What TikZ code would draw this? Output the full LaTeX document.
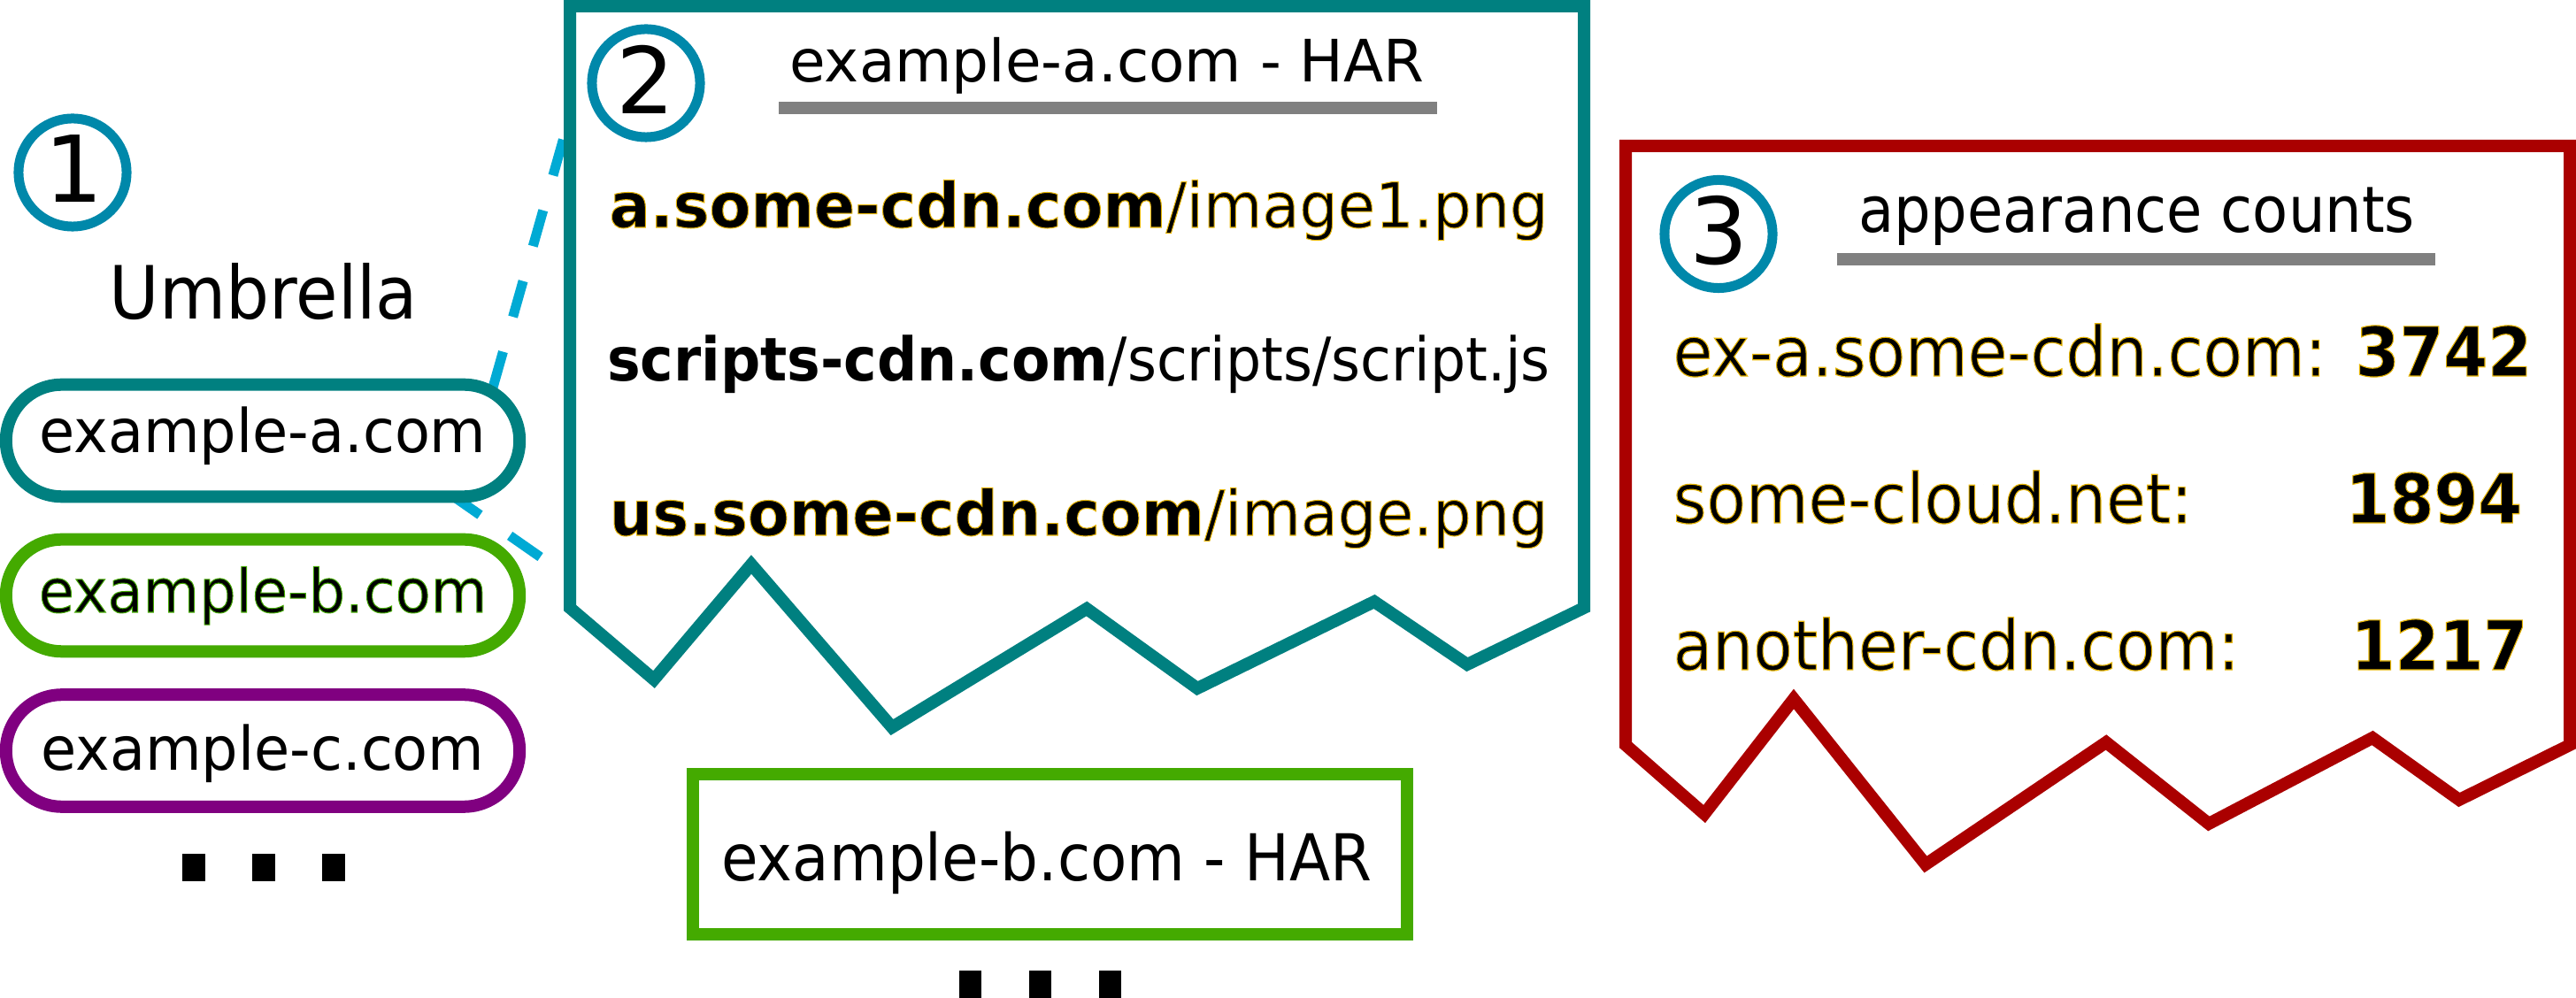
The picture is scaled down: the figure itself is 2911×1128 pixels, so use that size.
\documentclass[tikz,border=0pt]{standalone}
\usepackage{fontspec}
\setmainfont{DejaVu Sans}
\newfontfamily\olreg[FakeBold=1.5]{DejaVu Sans}
\newfontfamily\olbold[FakeBold=1.5]{DejaVu Sans Bold}
\usepackage{graphicx}
\definecolor{teal2}{HTML}{008080}
\definecolor{grn}{HTML}{44AA00}
\definecolor{purp}{HTML}{800080}
\definecolor{dred}{HTML}{AA0000}
\definecolor{cblue}{HTML}{0088AA}
\definecolor{dcyan}{HTML}{00AAD4}
\definecolor{grayrule}{HTML}{808080}
\newcommand\sx[2]{\scalebox{#1}[1]{#2}}
\newcommand\fsz[1]{\fontsize{#1}{#1}\selectfont}
% stroke colour for outlined text (fill stays black)
\newcommand\goldstroke{\special{pdf:literal direct 0.902 0.706 0 RG}}
\newcommand\greenstroke{\special{pdf:literal direct 0.267 0.667 0 RG}}
\begin{document}
\begin{tikzpicture}[x=0.01cm,y=-0.01cm]
\tikzset{
 pill/.style={draw, fill=white, rounded corners=0.63cm, minimum width=5.8cm, minimum height=1.265cm, line width=0.14cm, inner sep=0pt},
 numc/.style={circle, draw=cblue, line width=0.11cm, minimum size=1.22cm, inner sep=0pt},
 tcenter/.style={inner sep=0pt, anchor=base},
 tleft/.style={inner sep=0pt, anchor=base west},
 hframe/.style={line width=0.14cm, fill=white, line join=miter},
 hrule/.style={draw=grayrule, line width=0.14cm},
 zconn/.style={draw=dcyan, line width=0.11cm, dash pattern=on 0.42cm off 0.41cm},
 sqdot/.style={fill=black},
}
\useasboundingbox (0,0) rectangle (2911,1128);
\fill[white] (0,0) rectangle (2911,1128);

% zoom connectors (drawn under the boxes)
\coordinate (ua) at (557,438);
\coordinate (ub) at (650,110);
\coordinate (la) at (508,558);
\coordinate (lb) at (660,664);
\draw[zconn] (ua) -- (ub);
\draw[zconn] (la) -- (lb);

% ---- left column
\node[numc] (c1) at (82,195) {};
\node[tcenter] (n1) at (84,229) {\fsz{29.6pt}1};
\node[tcenter] (umb) at (298,361) {\sx{0.93}{\fsz{23.6pt}Umbrella}};

\node[pill, draw=teal2] (pa) at (297,498) {};
\node[pill, draw=grn] (pb) at (297,673) {};
\node[pill, draw=purp] (pc) at (297,848.5) {};
\node[tcenter] (ta) at (297,512) {\sx{0.96}{\fsz{19.35pt}example-a.com}};
\node[tcenter] (tb) at (297,692) {\sx{0.96}{\greenstroke\olreg\fsz{19.35pt}example-b.com}};
\node[tcenter] (tc) at (297,871) {\sx{0.96}{\fsz{19.35pt}example-c.com}};

\fill[sqdot] (206,965) rectangle (232,996);
\fill[sqdot] (285,965) rectangle (311,996);
\fill[sqdot] (364,965) rectangle (390,996);

% ---- box 2 (HAR of example-a)
\draw[hframe, draw=teal2] (644,7) -- (1790,7) -- (1790,687) -- (1658,751) -- (1553,680)
  -- (1353,778) -- (1228,688) -- (1008,822) -- (849,638) -- (739,768) -- (644,687) -- cycle;
\node[numc] (c2) at (730,94) {};
\node[tcenter] (n2) at (730,129) {\fsz{29.6pt}2};
\node[tcenter] (h2) at (1251,93) {\fsz{18.78pt}example-a.com - HAR};
\draw[hrule] (880,122) -- (1624,122);
\node[tcenter] (l1) at (1219,257) {\sx{0.97}{\goldstroke\fsz{20.06pt}{\olbold a.some-cdn.com}{\olreg /image1.png}}};
\node[tcenter] (l2) at (1219,431) {\sx{0.93}{\fsz{19.35pt}\textbf{scripts-cdn.com}/scripts/script.js}};
\node[tcenter] (l3) at (1219,605) {\sx{0.97}{\goldstroke\fsz{20.06pt}{\olbold us.some-cdn.com}{\olreg /image.png}}};

% ---- box example-b HAR
\node[draw=grn, line width=0.14cm, minimum width=8.07cm, minimum height=1.81cm, inner sep=0pt] (hb) at (1186.5,965.5) {};
\node[tcenter] (hbt) at (1183,995) {\sx{0.925}{\fsz{20.77pt}example-b.com - HAR}};
\fill[sqdot] (1084,1097) rectangle (1109,1130);
\fill[sqdot] (1163,1097) rectangle (1188,1130);
\fill[sqdot] (1242,1097) rectangle (1267,1130);

% ---- box 3 (appearance counts)
\draw[hframe, draw=dred] (1837,165) -- (2904,165) -- (2904,842) -- (2779,904) -- (2681,834)
  -- (2496,931) -- (2380,839) -- (2176,977) -- (2027,790) -- (1926,920) -- (1837,842) -- cycle;
\node[numc] (c3) at (1942,264.5) {};
\node[tcenter] (n3) at (1943,299) {\fsz{29.6pt}3};
\node[tcenter] (h3) at (2414.5,263) {\sx{0.91}{\fsz{20.49pt}appearance counts}};
\draw[hrule] (2076,293) -- (2752,293);
\node[tleft] (r1) at (1890,425) {\sx{0.93}{\goldstroke\olreg\fsz{22.19pt}ex-a.some-cdn.com:}};
\node[tleft] (v1) at (2661,425) {\sx{0.93}{\goldstroke\olbold\fsz{21.9pt}3742}};
\node[tleft] (r2) at (1890,591) {\sx{0.93}{\goldstroke\olreg\fsz{22.19pt}some-cloud.net:}};
\node[tleft] (v2) at (2650,591) {\sx{0.93}{\goldstroke\olbold\fsz{21.9pt}1894}};
\node[tleft] (r3) at (1890,757) {\sx{0.93}{\goldstroke\olreg\fsz{22.19pt}another-cdn.com:}};
\node[tleft] (v3) at (2656,757) {\sx{0.93}{\goldstroke\olbold\fsz{21.9pt}1217}};
\end{tikzpicture}
\end{document}
